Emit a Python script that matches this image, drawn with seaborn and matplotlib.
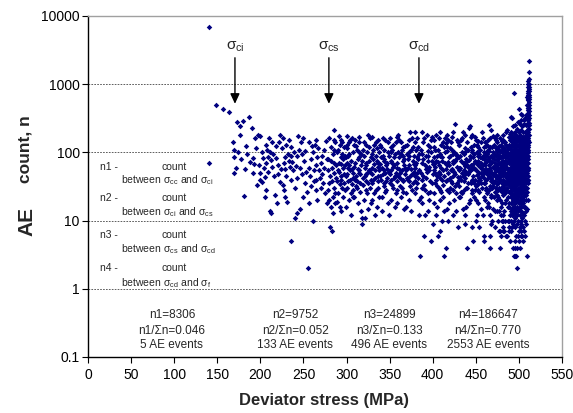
import matplotlib
matplotlib.use("Agg")
import matplotlib.pyplot as plt
import numpy as np
import pandas as pd
import seaborn as sns

# ---- values (stress in MPa, AE count per event) ----

# n1: before sigma_ci
stress_n1 = [140, 140, 148, 157, 164]
count_n1 = [6900, 70, 500, 440, 390]

# n2: sigma_ci .. sigma_cs
stress_n2 = [
    173, 176, 180, 187, 190, 176, 168, 169, 169, 169,
    182, 181, 194, 197, 199, 195, 191, 202, 203, 211,
    209, 215, 218, 193, 198, 207, 213, 209, 205, 202,
    200, 207, 205, 217, 219, 211, 212, 223, 226, 225,
    223, 226, 228, 231, 221, 224, 227, 229, 232, 230,
    233, 235, 237, 238, 236, 240, 241, 243, 245, 247,
    249, 244, 251, 253, 252, 254, 256, 250, 246, 240,
    242, 236, 255, 257, 259, 261, 263, 265, 258, 262,
    264, 266, 261, 268, 270, 272, 274, 276, 271, 273,
    275, 277, 269, 267, 264, 260, 248, 239, 234, 230,
    227, 222, 218, 214, 210, 206, 204, 200, 196, 192,
    188, 185, 183, 178, 172, 174, 248, 252, 256, 262,
    266, 270, 274, 277, 265, 259, 243, 246, 233, 236,
    229, 220, 216, 212, 208,
]
count_n2 = [
    280, 240, 290, 330, 230, 180, 143, 108, 86, 50,
    57, 23, 165, 180, 175, 115, 83, 100, 83, 100,
    85, 95, 82, 68, 66, 70, 62, 52, 44, 37,
    40, 28, 22, 24, 18, 14, 13, 180, 165, 117,
    37, 33, 22, 19, 48, 58, 70, 85, 95, 130,
    150, 120, 72, 55, 40, 30, 64, 88, 110, 140,
    160, 175, 75, 52, 35, 26, 18, 22, 15, 11,
    13, 5, 2, 60, 80, 100, 130, 150, 45, 38,
    28, 20, 10, 56, 70, 90, 110, 145, 48, 35,
    25, 18, 42, 115, 65, 125, 95, 100, 62, 45,
    28, 140, 125, 140, 160, 130, 60, 50, 33, 50,
    72, 95, 125, 80, 60, 100, 48, 105, 140, 55,
    85, 30, 60, 80, 40, 32, 42, 60, 75, 90,
    57, 66, 45, 78, 110,
]

# n3: sigma_cs .. sigma_cd
stress_n3 = [
    280, 282, 284, 286, 279, 281, 283, 285, 287, 280, 282, 284, 281, 283, 285, 287, 279, 286, 288, 280, 283, 285, 287, 279, 282, 284, 286, 288,
    289, 290, 291, 292, 293, 294, 295, 296, 297, 289, 290, 291, 292, 293, 294, 295, 296, 297, 298, 290, 292, 294, 296, 298, 291, 293, 295, 297, 289, 298,
    299, 300, 301, 302, 303, 304, 305, 306, 307, 299, 300, 301, 302, 303, 304, 305, 306, 307, 308, 299, 301, 303, 305, 307, 300, 302, 304, 306, 308, 303,
    309, 310, 311, 312, 313, 314, 315, 316, 317, 309, 310, 311, 312, 313, 314, 315, 316, 317, 318, 310, 312, 314, 316, 318, 311, 313, 315, 317, 309, 318,
    319, 320, 321, 322, 323, 324, 325, 326, 327, 319, 320, 321, 322, 323, 324, 325, 326, 327, 328, 320, 322, 324, 326, 328, 321, 323, 325, 327, 319, 328,
    329, 330, 331, 332, 333, 334, 335, 336, 337, 329, 330, 331, 332, 333, 334, 335, 336, 337, 338, 330, 332, 334, 336, 338, 331, 333, 335, 337, 329, 338,
    339, 340, 341, 342, 343, 344, 345, 346, 347, 339, 340, 341, 342, 343, 344, 345, 346, 347, 348, 340, 342, 344, 346, 348, 341, 343, 345, 347, 339, 348,
    349, 350, 351, 352, 353, 354, 355, 356, 357, 349, 350, 351, 352, 353, 354, 355, 356, 357, 358, 350, 352, 354, 356, 358, 351, 353, 355, 357, 349, 358,
    359, 360, 361, 362, 363, 364, 365, 366, 367, 359, 360, 361, 362, 363, 364, 365, 366, 367, 368, 360, 362, 364, 366, 368, 361, 363, 365, 367, 359, 368,
    369, 370, 371, 372, 373, 374, 375, 376, 377, 369, 370, 371, 372, 373, 374, 375, 376, 377, 378, 370, 372, 374, 376, 378, 371, 373, 375, 377, 369, 378,
    379, 380, 381, 382, 383, 384, 379, 380, 381, 382, 383, 384, 380, 382, 384, 381, 383, 379, 384, 385, 380, 382,
]
count_n3 = [
    160, 120, 95, 70, 55, 45, 38, 30, 25, 20, 16, 13, 8, 7, 215, 140, 80, 50, 42, 35, 60, 110, 18, 28, 75, 22, 150, 65,
    100, 55, 175, 130, 45, 85, 30, 60, 120, 38, 25, 70, 16, 150, 40, 95, 22, 48, 65, 110, 34, 14, 80, 28, 52, 68, 140, 36, 19, 90,
    45, 130, 70, 38, 95, 55, 25, 160, 42, 85, 30, 115, 60, 20, 150, 75, 34, 50, 100, 16, 48, 65, 12, 28, 175, 88, 40, 58, 22, 140,
    62, 40, 125, 30, 80, 50, 170, 35, 95, 22, 70, 45, 110, 18, 140, 55, 26, 65, 9, 150, 38, 85, 48, 11, 32, 58, 100, 14, 130, 75,
    42, 90, 60, 28, 130, 50, 35, 75, 160, 110, 20, 45, 70, 38, 100, 15, 55, 30, 85, 140, 48, 25, 120, 40, 11, 65, 180, 52, 33, 18,
    60, 95, 40, 130, 55, 28, 75, 45, 150, 35, 20, 110, 68, 42, 88, 16, 62, 30, 100, 48, 25, 140, 38, 55, 80, 12, 115, 70, 170, 22,
    45, 85, 60, 160, 35, 110, 50, 28, 70, 130, 40, 22, 90, 55, 32, 150, 65, 42, 18, 120, 48, 75, 38, 100, 14, 80, 26, 58, 68, 140,
    52, 160, 75, 40, 110, 30, 65, 45, 140, 88, 35, 55, 20, 70, 130, 42, 95, 25, 60, 48, 100, 62, 16, 38, 120, 33, 85, 50, 12, 170,
    70, 45, 150, 32, 95, 55, 40, 120, 65, 28, 180, 85, 50, 22, 110, 75, 38, 15, 60, 100, 42, 30, 90, 48, 58, 140, 26, 80, 18, 125,
    55, 95, 40, 150, 65, 32, 110, 48, 75, 25, 130, 60, 20, 88, 45, 14, 160, 35, 68, 42, 100, 200, 28, 52, 80, 38, 58, 120, 16, 90,
    60, 45, 110, 35, 80, 55, 140, 25, 70, 160, 42, 95, 65, 50, 20, 30, 120, 38, 12, 3, 200, 85,
]

# n4: sigma_cd .. failure, scattered part (385-490 MPa)
stress_n4 = [
    386, 387, 388, 389, 390, 391, 392, 393, 394, 395, 396, 397, 398, 399, 386, 387, 388, 389, 390, 391,
    392, 393, 394, 395, 396, 397, 398, 399, 400, 386, 388, 390, 392, 394, 396, 398, 400, 387, 389, 391,
    393, 395, 397, 399, 400,
    401, 402, 403, 404, 405, 406, 407, 408, 409, 410, 411, 412, 413, 414, 415, 401, 402, 403, 404, 405,
    406, 407, 408, 409, 410, 411, 412, 413, 414, 415, 401, 403, 405, 407, 409, 411, 413, 415, 402, 404,
    406, 408, 410, 412, 414, 401, 403, 405, 407, 409, 411, 413, 415, 404, 408, 412,
    416, 417, 418, 419, 420, 421, 422, 423, 424, 425, 426, 427, 428, 429, 430, 416, 417, 418, 419, 420,
    421, 422, 423, 424, 425, 426, 427, 428, 429, 430, 416, 418, 420, 422, 424, 426, 428, 430, 417, 419,
    421, 423, 425, 427, 429, 416, 418, 420, 422, 424, 426, 428, 430, 419, 423, 427,
    431, 432, 433, 434, 435, 436, 437, 438, 439, 440, 441, 442, 443, 444, 445, 431, 432, 433, 434, 435,
    436, 437, 438, 439, 440, 441, 442, 443, 444, 445, 431, 432, 433, 434, 435, 436, 437, 438, 439, 440,
    441, 442, 443, 444, 445, 431, 433, 435, 437, 439, 441, 443, 445, 432, 434, 436, 438, 440, 442, 444,
    436, 440, 444, 445,
    446, 447, 448, 449, 450, 451, 452, 453, 454, 455, 456, 457, 458, 459, 460,
    446, 447, 448, 449, 450, 451, 452, 453, 454, 455, 456, 457, 458, 459, 460,
    446, 447, 448, 449, 450, 451, 452, 453, 454, 455, 456, 457, 458, 459, 460,
    446, 448, 450, 452, 454, 456, 458, 460,
    447, 449, 451, 453, 455, 457, 459,
    446, 450, 454, 458, 448, 452, 456, 460, 449, 453, 457, 451,
    461, 462, 463, 464, 465, 466, 467, 468, 469, 470, 471, 472, 473, 474, 475,
    461, 462, 463, 464, 465, 466, 467, 468, 469, 470, 471, 472, 473, 474, 475,
    461, 462, 463, 464, 465, 466, 467, 468, 469, 470, 471, 472, 473, 474, 475,
    461, 462, 463, 464, 465, 466, 467, 468, 469, 470, 471, 472, 473, 474, 475,
    461, 462, 463, 464, 465, 466, 467, 468, 469, 470, 471, 472, 473, 474, 475,
    461, 463, 465, 467, 469, 471, 473, 475,
    462, 464, 466, 468, 470, 472, 474,
    461, 463, 465, 467, 469, 471, 473, 475,
    466, 470, 474, 468, 472,
    476, 477, 478, 479, 480, 481, 482, 483, 484, 485, 486, 487, 488, 489, 490,
    476, 477, 478, 479, 480, 481, 482, 483, 484, 485, 486, 487, 488, 489, 490,
    476, 477, 478, 479, 480, 481, 482, 483, 484, 485, 486, 487, 488, 489, 490,
    476, 477, 478, 479, 480, 481, 482, 483, 484, 485, 486, 487, 488, 489, 490,
    476, 477, 478, 479, 480, 481, 482, 483, 484, 485, 486, 487, 488, 489, 490,
    476, 477, 478, 479, 480, 481, 482, 483, 484, 485, 486, 487, 488, 489, 490,
    476, 477, 478, 479, 480, 481, 482, 483, 484, 485, 486, 487, 488, 489, 490,
    476, 477, 478, 479, 480, 481, 482, 483, 484, 485, 486, 487, 488, 489, 490,
    477, 479, 481, 483, 485, 487, 489, 478, 480, 482, 484, 486, 488, 490,
    476, 478, 480, 482, 484, 486, 488, 490, 477, 479, 481, 483, 485, 487, 489,
]
count_n4 = [
    50, 95, 30, 140, 6, 65, 42, 180, 25, 75, 55, 120, 5, 35, 110, 18, 70, 45, 160, 28,
    88, 52, 130, 14, 62, 38, 100, 75, 48, 22, 200, 33, 58, 90, 20, 150, 68, 40, 80, 12,
    60, 105, 26, 170, 9,
    55, 120, 35, 75, 45, 6, 160, 28, 90, 60, 40, 140, 3, 70, 4, 25, 85, 50, 180, 32,
    110, 65, 42, 20, 130, 75, 55, 14, 100, 38, 150, 62, 88, 30, 48, 10, 120, 58, 18, 40,
    72, 95, 26, 33, 160, 68, 110, 16, 52, 200, 85, 45, 135, 12, 7, 22,
    65, 40, 150, 85, 30, 55, 110, 45, 70, 20, 260, 95, 35, 143, 60, 28, 120, 50, 18, 90,
    38, 170, 75, 12, 100, 48, 25, 62, 8, 130, 105, 72, 42, 58, 200, 32, 88, 22, 15, 65,
    140, 28, 52, 80, 44, 180, 10, 115, 35, 54, 74, 150, 40, 26, 95, 14,
    55, 90, 40, 160, 70, 28, 115, 48, 80, 4, 62, 230, 240, 35, 100, 130, 22, 75, 50, 15,
    95, 42, 180, 30, 65, 110, 18, 55, 85, 38, 32, 60, 150, 25, 45, 70, 12, 100, 52, 140,
    35, 78, 20, 120, 58, 85, 26, 200, 64, 16, 48, 90, 28, 44, 100, 38, 9, 75, 52, 170,
    55, 30, 66, 8,
    60, 5, 95, 40, 150, 70, 28, 120, 50, 85, 35, 200, 65, 5, 6,
    110, 45, 22, 75, 55, 130, 38, 18, 95, 62, 140, 30, 48, 100, 42,
    25, 85, 60, 170, 32, 12, 88, 52, 26, 110, 70, 45, 160, 36, 80,
    40, 130, 20, 65, 42, 15, 90, 55,
    68, 28, 100, 75, 40, 58, 22,
    180, 10, 8, 12, 36, 145, 50, 120, 58, 34, 82, 46,
    70, 40, 130, 55, 250, 6, 85, 215, 30, 100, 48, 160, 65, 20, 110,
    35, 90, 25, 150, 45, 4, 60, 38, 120, 15, 80, 52, 30, 95, 42,
    140, 58, 75, 18, 105, 68, 32, 88, 50, 175, 22, 70, 115, 45, 62,
    20, 125, 48, 80, 28, 55, 160, 42, 72, 36, 130, 26, 90, 58, 14,
    65, 28, 95, 42, 16, 120, 50, 22, 85, 32, 60, 14, 45, 105, 24,
    52, 100, 66, 12, 40, 95, 44, 180,
    30, 110, 85, 24, 62, 38, 140,
    88, 16, 54, 75, 10, 60, 150, 34,
    120, 46, 78, 9, 8,
    55, 90, 40, 130, 65, 28, 110, 48, 75, 200, 215, 35, 95, 58, 150,
    22, 70, 160, 45, 100, 32, 60, 140, 25, 85, 50, 120, 38, 80, 42,
    120, 38, 4, 85, 18, 62, 150, 30, 105, 44, 70, 16, 55, 130, 26,
    80, 14, 60, 30, 145, 92, 40, 66, 50, 20, 110, 75, 170, 34, 95,
    36, 52, 100, 12, 48, 180, 24, 90, 140, 62, 30, 45, 10, 115, 60,
    10, 125, 28, 65, 36, 8, 85, 55, 18, 130, 88, 58, 26, 70, 12,
    68, 110, 20, 55, 26, 40, 72, 14, 95, 34, 60, 22, 48, 16, 80,
    28, 44, 85, 16, 120, 52, 12, 38, 75, 28, 100, 40, 18, 56, 32,
    7, 6, 10, 7, 6, 10, 8, 7, 10, 7, 10, 6, 7, 5,
    60, 48, 75, 34, 70, 42, 125, 185, 30, 105, 46, 115, 36, 95, 48,
]

# n4: the dense run up to failure, one list of counts per stress column
col_stress = [491, 492, 493, 494, 495, 496, 497, 498, 499, 500, 501,
              502, 503, 504, 505, 506, 507, 508, 509, 510, 511, 512]
col_counts = [
    [330, 120, 60, 35, 18, 90, 45, 10, 150, 25, 70, 7, 52, 200, 80, 28, 14, 110, 40, 22],
    [320, 80, 40, 22, 130, 55, 12, 100, 30, 65, 8, 175, 46, 15, 60, 24, 90, 35, 18, 140],
    [100, 50, 28, 160, 70, 16, 38, 110, 9, 60, 4, 240, 42, 20, 80, 32, 12, 130, 55, 24],
    [750, 85, 35, 140, 58, 24, 13, 95, 44, 3, 190, 66, 30, 10, 110, 48, 20, 75, 16, 160],
    [60, 120, 30, 200, 75, 18, 45, 150, 11, 90, 36, 5, 55, 25, 3, 100, 40, 14, 65, 22, 130],
    [40, 100, 65, 22, 170, 50, 14, 80, 32, 130, 8, 60, 4, 250, 45, 120, 28, 18, 90, 35],
    [90, 35, 55, 140, 20, 70, 12, 110, 42, 28, 6, 180, 48, 3, 65, 24, 160, 38, 85, 15],
    [2, 60, 125, 38, 85, 16, 50, 220, 26, 100, 9, 70, 34, 4, 42, 150, 20, 75, 12, 55],
    [45, 160, 75, 30, 110, 19, 58, 10, 90, 40, 280, 24, 66, 6, 130, 35, 14, 80, 50, 22],
    [430, 70, 130, 36, 95, 52, 15, 200, 28, 80, 7, 44, 150, 5, 110, 40, 18, 60, 25, 175],
    [60, 110, 30, 180, 45, 85, 20, 260, 12, 70, 38, 140, 8, 54, 4, 95, 26, 50, 16, 120, 35],
    [370, 90, 50, 150, 25, 65, 14, 120, 40, 210, 6, 78, 32, 100, 10, 60, 20, 130, 44, 85, 28],
    [75, 40, 130, 22, 60, 300, 16, 95, 48, 170, 9, 55, 28, 110, 7, 140, 35, 65, 18, 90, 50],
    [55, 160, 35, 85, 18, 240, 70, 11, 125, 44, 6, 62, 26, 100, 350, 75, 30, 140, 48, 20, 90],
    [100, 45, 200, 65, 28, 140, 13, 80, 250, 36, 8, 55, 170, 22, 5, 120, 38, 60, 18, 90, 30],
    [70, 120, 40, 260, 90, 20, 55, 160, 12, 75, 300, 32, 7, 110, 48, 65, 24, 140, 42, 95, 16],
    [150, 60, 120, 85, 30, 200, 45, 16, 110, 320, 65, 10, 38, 130, 6, 75, 25, 55, 170, 40, 90],
    [90, 250, 50, 140, 130, 70, 24, 180, 35, 350, 100, 14, 58, 9, 200, 120, 40, 65, 20, 160, 30],
    [120, 60, 350, 200, 80, 40, 650, 150, 26, 100, 500, 3, 15, 70, 260, 180, 50, 90, 30, 120, 40],
    [180, 90, 450, 300, 55, 130, 750, 220, 35, 110, 580, 70, 20, 380, 160, 250, 60, 100, 40, 140, 45],
    [300, 150, 600, 420, 900, 250, 100, 500, 200, 700, 350, 60, 800, 120, 1100, 180, 80, 450, 40, 1000, 250],
    [2200, 1000, 800, 650, 500, 400, 320, 270, 220, 180, 140, 900, 1200, 700, 600, 1500, 850, 550, 450, 350, 250],
]

# stage markers
stage_names = [r"$\mathregular{\sigma_{ci}}$", r"$\mathregular{\sigma_{cs}}$", r"$\mathregular{\sigma_{cd}}$"]
stage_stress = [170.5, 279.5, 384]

# stage summaries
summary_n = ["n1=8306", "n2=9752", "n3=24899", "n4=186647"]
summary_ratio = ["n1/\u03a3n=0.046", "n2/\u03a3n=0.052", "n3/\u03a3n=0.133", "n4/\u03a3n=0.770"]
summary_events = ["5 AE events", "133 AE events", "496 AE events", "2553 AE events"]

legend_bounds = [("cc", "ci"), ("ci", "cs"), ("cs", "cd"), ("cd", "f")]

y_ticks = [0.1, 1, 10, 100, 1000, 10000]
y_tick_labels = ["0.1", "1", "10", "100", "1000", "10000"]
x_ticks = [0, 50, 100, 150, 200, 250, 300, 350, 400, 450, 500, 550]

# ---- assemble ----
col_x = []
col_y = []
for s, counts in zip(col_stress, col_counts):
    col_x += [s] * len(counts)
    col_y += counts

df = pd.DataFrame({
    "stress": stress_n1 + stress_n2 + stress_n3 + stress_n4 + col_x,
    "count": count_n1 + count_n2 + count_n3 + count_n4 + col_y,
})

sns.set_style("ticks")
plt.rcParams["font.family"] = ["Liberation Sans", "DejaVu Sans"]
plt.rcParams["mathtext.fontset"] = "custom"
plt.rcParams["mathtext.rm"] = "Liberation Sans"
plt.rcParams["mathtext.it"] = "Liberation Sans:italic"
plt.rcParams["mathtext.bf"] = "Liberation Sans:bold"

fig = plt.figure(figsize=(5.73, 4.13), dpi=100)
ax = fig.add_axes([0.1536, 0.1356, 0.8272, 0.8257])

sns.scatterplot(data=df, x="stress", y="count", marker="D", s=8,
                color="#000080", linewidth=0, ax=ax, zorder=3)

ax.set_yscale("log")
ax.set_xlim(0, 550)
ax.set_ylim(0.1, 10000)
ax.set_yticks(y_ticks)
ax.set_yticklabels(y_tick_labels)
ax.yaxis.set_minor_locator(matplotlib.ticker.NullLocator())
ax.set_xticks(x_ticks)
ax.set_xlabel("")
ax.set_ylabel("")
ax.tick_params(axis="both", direction="out", length=4, width=0.8, labelsize=10, colors="black")
ax.tick_params(axis="x", pad=4)
ax.tick_params(axis="y", pad=2)

ax.grid(axis="y", color="#444444", linestyle=(0, (2, 1.5)), linewidth=0.6)
ax.set_axisbelow(True)

for side in ["left", "bottom"]:
    ax.spines[side].set_color("black")
    ax.spines[side].set_linewidth(1)
for side in ["top", "right"]:
    ax.spines[side].set_visible(True)
    ax.spines[side].set_color("#a0a0a0")
    ax.spines[side].set_linewidth(1)

# arrows for the stress thresholds
for name, s in zip(stage_names, stage_stress):
    ax.annotate("", xy=(s, 516), xytext=(s, 2440),
                arrowprops=dict(arrowstyle="-|>,head_width=0.28,head_length=0.6",
                                color="black", lw=1, shrinkA=0, shrinkB=0))
    ax.text(s, 3500, name, ha="center", va="center", fontsize=11)

# left hand description of n1..n4
row_y = [0.557, 0.466, 0.358, 0.261]
sub_y = [0.519, 0.425, 0.317, 0.217]
for i, (lo, hi) in enumerate(legend_bounds):
    ax.text(0.0253, row_y[i], f"n{i + 1} -", transform=ax.transAxes,
            ha="left", va="center", fontsize=7.5)
    ax.text(0.156, row_y[i], "count", transform=ax.transAxes,
            ha="left", va="center", fontsize=7.5)
    ax.text(0.0696, sub_y[i],
            r"between $\mathregular{\sigma_{%s}}$ and $\mathregular{\sigma_{%s}}$" % (lo, hi),
            transform=ax.transAxes, ha="left", va="center", fontsize=7.5)

# summaries along the bottom
summary_x = [0.177, 0.437, 0.635, 0.844]
for i in range(4):
    ax.text(summary_x[i], 0.123, summary_n[i], transform=ax.transAxes,
            ha="center", va="center", fontsize=8.5)
    ax.text(summary_x[i], 0.077, summary_ratio[i], transform=ax.transAxes,
            ha="center", va="center", fontsize=8.5)
    ax.text(summary_x[i], 0.034, summary_events[i], transform=ax.transAxes,
            ha="center", va="center", fontsize=8.5)

# axis titles
fig.text(0.0436, 0.640, "count, n", rotation=90, ha="center", va="center",
         fontsize=12.5, fontweight="bold")
fig.text(0.047, 0.464, "AE", rotation=90, ha="center", va="center",
         fontsize=15, fontweight="bold")
fig.text(0.565, 0.031, "Deviator stress (MPa)", ha="center", va="center",
         fontsize=12, fontweight="bold")

fig.savefig("out.png", dpi=100)
